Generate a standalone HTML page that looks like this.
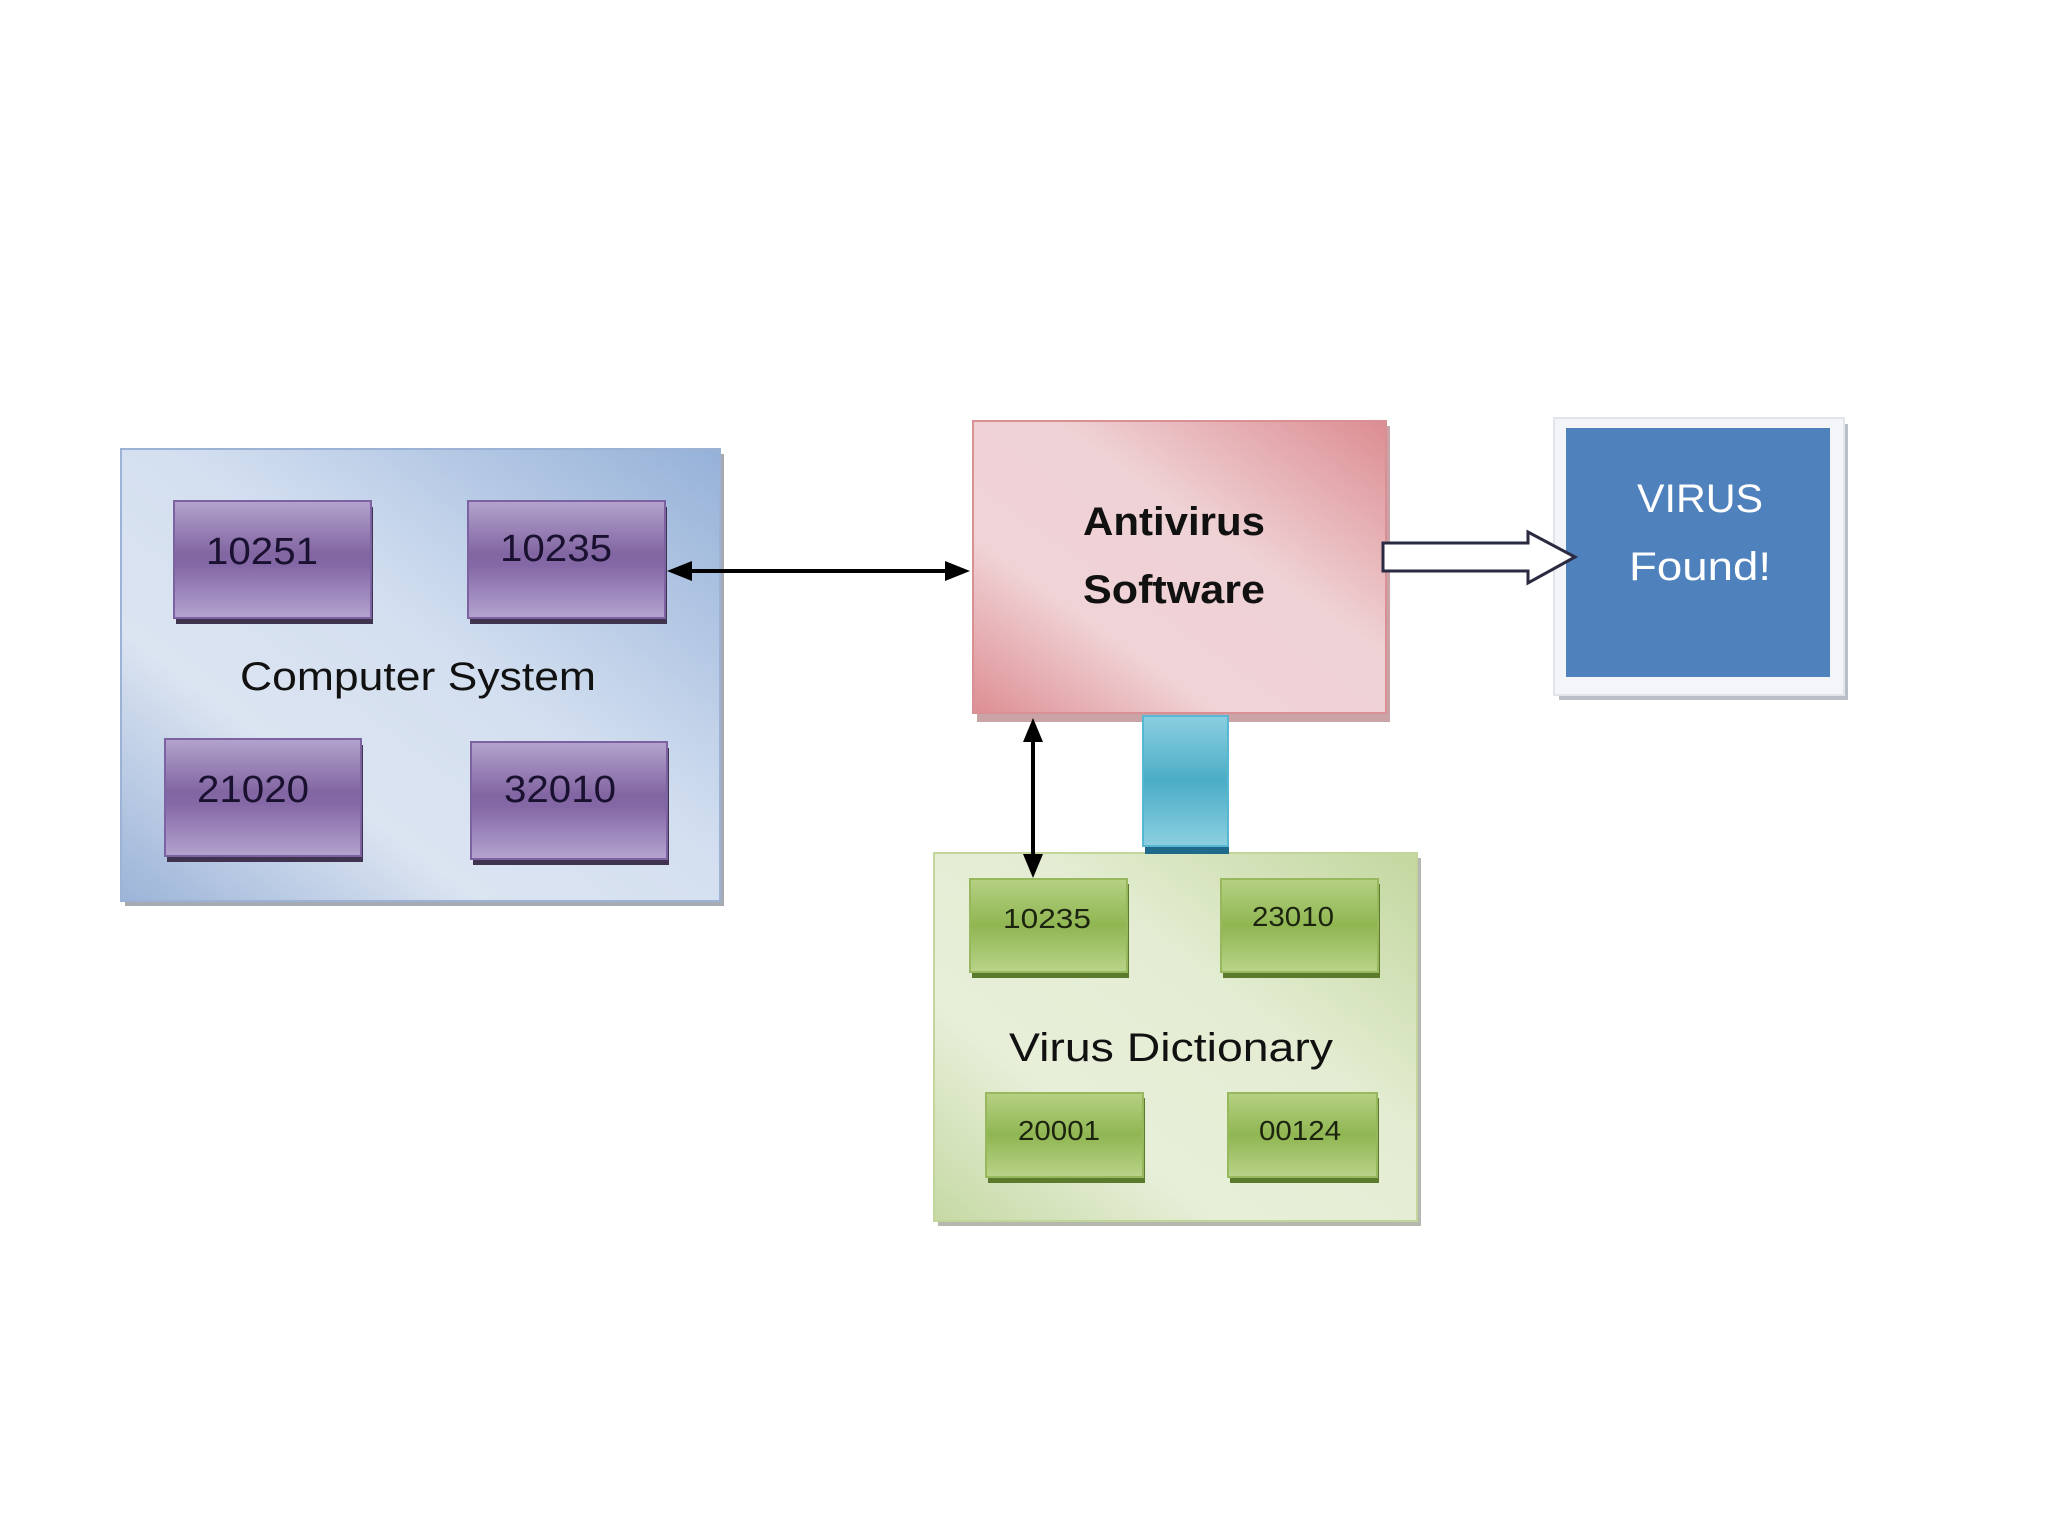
<!DOCTYPE html>
<html><head><meta charset="utf-8"><style>
html,body{margin:0;padding:0;background:#fff;}
svg{display:block}
text{font-family:"Liberation Sans",sans-serif;}
</style></head><body>
<svg width="2048" height="1536" viewBox="0 0 2048 1536" xmlns="http://www.w3.org/2000/svg">
<defs>
<linearGradient id="blue" x1="0" y1="1" x2="1" y2="0">
<stop offset="0" stop-color="#9cb4d8"/><stop offset="0.3" stop-color="#dbe4f1"/><stop offset="0.55" stop-color="#d3dff0"/><stop offset="1" stop-color="#95b1d8"/>
</linearGradient>
<linearGradient id="pink" x1="0" y1="1" x2="1" y2="0">
<stop offset="0" stop-color="#dd8e93"/><stop offset="0.3" stop-color="#f0d3d6"/><stop offset="0.6" stop-color="#efd2d5"/><stop offset="1" stop-color="#dc8d92"/>
</linearGradient>
<linearGradient id="green" x1="0" y1="1" x2="1" y2="0">
<stop offset="0" stop-color="#c6d9a4"/><stop offset="0.3" stop-color="#e7efd9"/><stop offset="0.6" stop-color="#e4edd3"/><stop offset="1" stop-color="#c3d79f"/>
</linearGradient>
<linearGradient id="purp" x1="0" y1="0" x2="0" y2="1">
<stop offset="0" stop-color="#b3a3cd"/><stop offset="0.45" stop-color="#8266a2"/><stop offset="0.55" stop-color="#8468a6"/><stop offset="1" stop-color="#b4a3cf"/>
</linearGradient>
<linearGradient id="gr" x1="0" y1="0" x2="0" y2="1">
<stop offset="0" stop-color="#b6d183"/><stop offset="0.5" stop-color="#90b652"/><stop offset="1" stop-color="#b9d389"/>
</linearGradient>
<linearGradient id="cy" x1="0" y1="0" x2="0" y2="1">
<stop offset="0" stop-color="#8ccfe0"/><stop offset="0.5" stop-color="#4badc6"/><stop offset="1" stop-color="#8ccfe0"/>
</linearGradient>
</defs>

<!-- Computer System -->
<rect x="125" y="454" width="599" height="452" fill="#a6aab2"/>
<rect x="121" y="449" width="599" height="452" fill="url(#blue)" stroke="#9cb3d6" stroke-width="2"/>
<g>
<rect x="176" y="507" width="197" height="117" fill="#3f3350"/>
<rect x="174" y="501" width="197" height="117" fill="url(#purp)" stroke="#7c62a0" stroke-width="2"/>
<rect x="470" y="507" width="197" height="117" fill="#3f3350"/>
<rect x="468" y="501" width="197" height="117" fill="url(#purp)" stroke="#7c62a0" stroke-width="2"/>
<rect x="167" y="745" width="196" height="117" fill="#3f3350"/>
<rect x="165" y="739" width="196" height="117" fill="url(#purp)" stroke="#7c62a0" stroke-width="2"/>
<rect x="473" y="748" width="196" height="117" fill="#3f3350"/>
<rect x="471" y="742" width="196" height="117" fill="url(#purp)" stroke="#7c62a0" stroke-width="2"/>
</g>
<g font-size="38" fill="#1a1030" text-anchor="middle">
<text x="262" y="564" textLength="112" lengthAdjust="spacingAndGlyphs">10251</text>
<text x="556" y="561" textLength="112" lengthAdjust="spacingAndGlyphs">10235</text>
<text x="253" y="802" textLength="112" lengthAdjust="spacingAndGlyphs">21020</text>
<text x="560" y="802" textLength="112" lengthAdjust="spacingAndGlyphs">32010</text>
</g>
<text x="418" y="690" font-size="40" fill="#111" text-anchor="middle" textLength="356" lengthAdjust="spacingAndGlyphs">Computer System</text>

<!-- horizontal double arrow -->
<line x1="685" y1="571" x2="952" y2="571" stroke="#000" stroke-width="4"/>
<polygon points="667,571 692,561 692,581" fill="#000"/>
<polygon points="970,571 945,561 945,581" fill="#000"/>

<!-- Antivirus -->
<rect x="977" y="426" width="413" height="296" fill="#c9a3a6"/>
<rect x="973" y="421" width="413" height="292" fill="url(#pink)" stroke="#d99095" stroke-width="2"/>
<g font-size="40" fill="#111" text-anchor="middle" font-weight="bold">
<text x="1174" y="535" textLength="182" lengthAdjust="spacingAndGlyphs">Antivirus</text>
<text x="1174" y="603" textLength="182" lengthAdjust="spacingAndGlyphs">Software</text>
</g>

<!-- VIRUS Found -->
<rect x="1559" y="424" width="289" height="276" fill="#b9bec8"/>
<rect x="1554" y="418" width="290" height="277" fill="#f4f5f8" stroke="#e1e4ea" stroke-width="2"/>
<rect x="1566" y="428" width="264" height="249" fill="#4f81bd"/>
<g font-size="40" fill="#fff" text-anchor="middle">
<text x="1700" y="512" textLength="126" lengthAdjust="spacingAndGlyphs">VIRUS</text>
<text x="1700" y="580" textLength="142" lengthAdjust="spacingAndGlyphs">Found!</text>
</g>

<!-- hollow arrow -->
<polygon points="1383,543 1528,543 1528,532 1575,557 1528,583 1528,571 1383,571" fill="#fff" stroke="#2a2a40" stroke-width="3"/>

<!-- Virus Dictionary -->
<rect x="938" y="858" width="483" height="368" fill="#b4b8ae"/>
<rect x="934" y="853" width="483" height="368" fill="url(#green)" stroke="#c2d69c" stroke-width="2"/>
<g>
<rect x="972" y="884" width="157" height="94" fill="#5c7a2c"/>
<rect x="970" y="879" width="157" height="93" fill="url(#gr)" stroke="#98b85e" stroke-width="2"/>
<rect x="1223" y="884" width="157" height="94" fill="#5c7a2c"/>
<rect x="1221" y="879" width="157" height="93" fill="url(#gr)" stroke="#98b85e" stroke-width="2"/>
<rect x="988" y="1098" width="157" height="85" fill="#5c7a2c"/>
<rect x="986" y="1093" width="157" height="84" fill="url(#gr)" stroke="#98b85e" stroke-width="2"/>
<rect x="1230" y="1098" width="149" height="85" fill="#5c7a2c"/>
<rect x="1228" y="1093" width="149" height="84" fill="url(#gr)" stroke="#98b85e" stroke-width="2"/>
</g>
<g font-size="28" fill="#1c2410" text-anchor="middle">
<text x="1047" y="928" textLength="88" lengthAdjust="spacingAndGlyphs">10235</text>
<text x="1293" y="926" textLength="82" lengthAdjust="spacingAndGlyphs">23010</text>
<text x="1059" y="1140" textLength="82" lengthAdjust="spacingAndGlyphs">20001</text>
<text x="1300" y="1140" textLength="82" lengthAdjust="spacingAndGlyphs">00124</text>
</g>
<text x="1171" y="1061" font-size="40" fill="#111" text-anchor="middle" textLength="324" lengthAdjust="spacingAndGlyphs">Virus Dictionary</text>

<!-- cyan connector -->
<rect x="1145" y="840" width="84" height="14" fill="#1f6a8a"/>
<rect x="1143" y="716" width="85" height="130" fill="url(#cy)" stroke="#58b7d3" stroke-width="2"/>

<!-- vertical double arrow -->
<line x1="1033" y1="735" x2="1033" y2="862" stroke="#000" stroke-width="4"/>
<polygon points="1033,718 1023,742 1043,742" fill="#000"/>
<polygon points="1033,878 1023,854 1043,854" fill="#000"/>
</svg>
</body></html>
